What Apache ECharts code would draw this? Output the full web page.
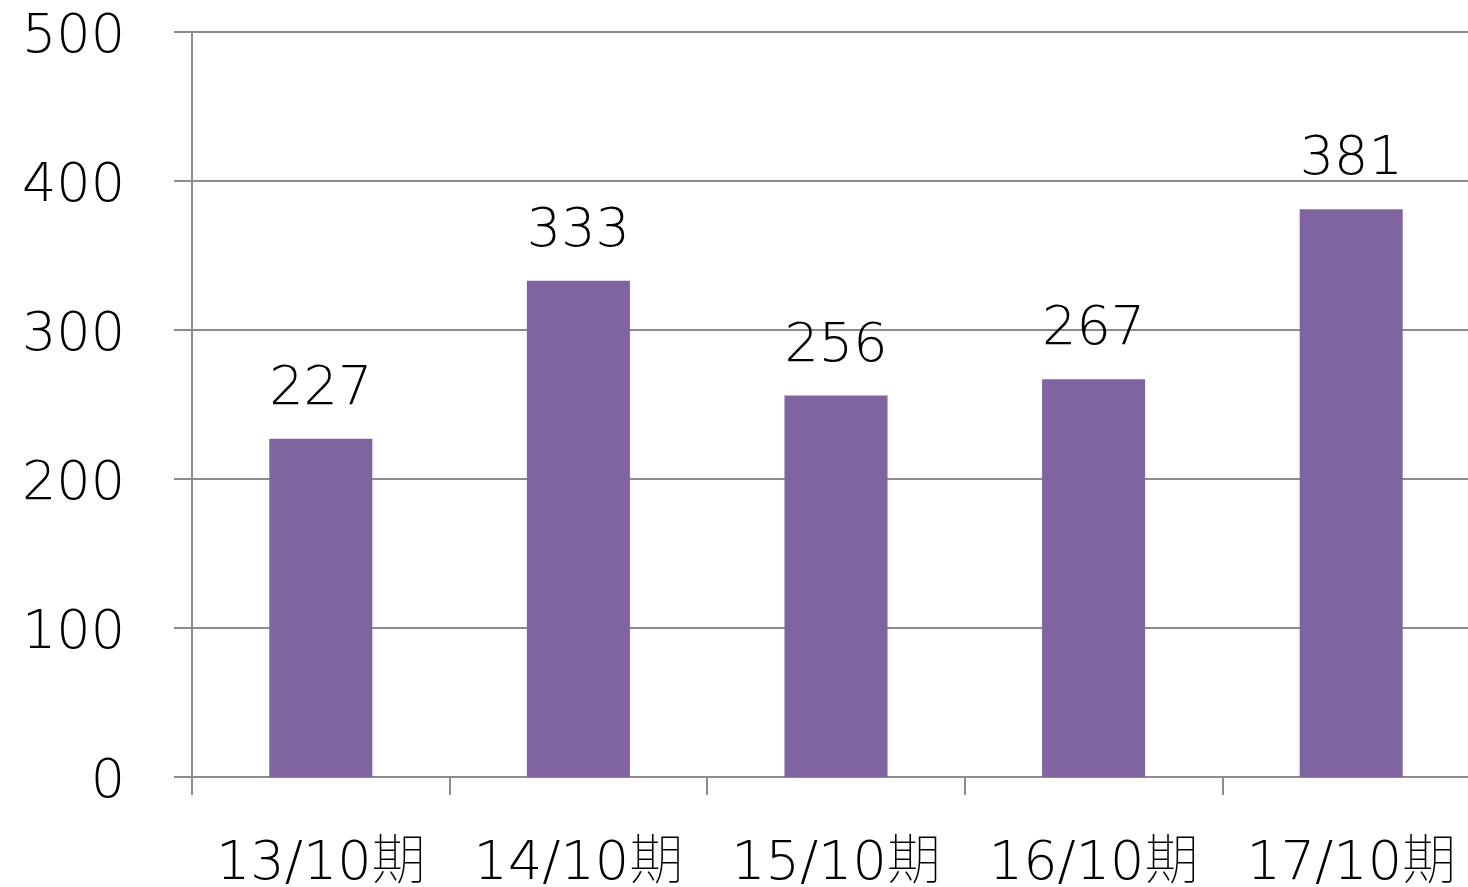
<!DOCTYPE html>
<html>
<head>
<meta charset="utf-8">
<script src="https://cdn.jsdelivr.net/npm/echarts@6/dist/echarts.min.js"></script>
<style>
	html,body{margin:0;padding:0;background:#fff;}
	#main{width:1468px;height:887px;}
</style>
</head>
<body>
<div id="main"></div>
<script>
	var categories = ['13/10期','14/10期','15/10期','16/10期','17/10期'];
	var values = [227, 333, 256, 267, 381];
	var yTicks = [0, 100, 200, 300, 400, 500];

	var fontFam = "'DejaVu Sans', 'Noto Sans CJK JP'";
	var lineColor = '#8c8c8c';

	var option = {
		backgroundColor: '#ffffff',
		animation: false,
		grid: {
			left: 192,
			right: -12,
			top: 32,
			bottom: 110,
			outerBoundsMode: 'none',
			containLabel: false
		},
		xAxis: {
			type: 'category',
			data: categories,
			boundaryGap: true,
			axisLine: {lineStyle: {color: lineColor, width: 2}},
			axisTick: {show: true, length: 18, alignWithLabel: false, lineStyle: {color: lineColor, width: 2}},
			axisLabel: {
				interval: 0,
				margin: 61,
				fontSize: 54,
				color: '#000',
				fontFamily: fontFam,
				fontWeight: 'lighter'
			}
		},
		yAxis: {
			type: 'value',
			min: yTicks[0],
			max: yTicks[yTicks.length - 1],
			interval: 100,
			axisLine: {show: true, lineStyle: {color: lineColor, width: 2}},
			axisTick: {show: true, length: 18, lineStyle: {color: lineColor, width: 2}},
			splitLine: {show: true, lineStyle: {color: lineColor, width: 2}},
			axisLabel: {
				margin: 67,
				formatter: '{v|{value}}',
				rich: {
					v: {
						fontSize: 54,
						color: '#000',
						fontFamily: fontFam,
						fontWeight: 'lighter',
						padding: [12, 0, 0, 0]
					}
				}
			}
		},
		series: [
			{
				type: 'bar',
				data: values,
				barWidth: '40%',
				itemStyle: {color: '#8064a2'},
				label: {
					show: true,
					position: 'top',
					distance: 22,
					fontSize: 54,
					color: '#000',
					fontFamily: fontFam,
					fontWeight: 'lighter'
				}
			}
		]
	};
	var myChart = echarts.init(document.getElementById('main'));
	myChart.setOption(option);
</script>
</body>
</html>
